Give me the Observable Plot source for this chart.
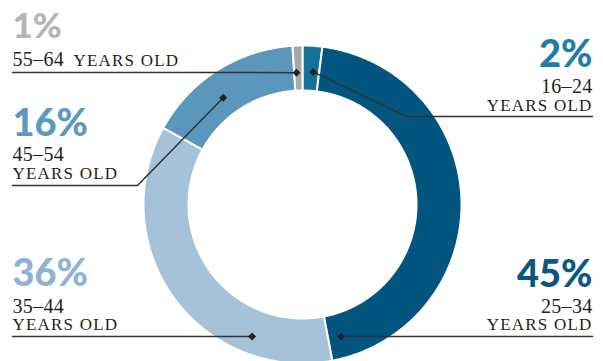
<!DOCTYPE html>
<html><head><meta charset="utf-8">
<script src="https://cdn.jsdelivr.net/npm/d3@7"></script>
<script src="https://cdn.jsdelivr.net/npm/@observablehq/plot@0.6"></script>
<style>
html,body{margin:0;padding:0;background:#fff;}
g[aria-description="years"] text{letter-spacing:1.2px;}
g[aria-description="range"] text{letter-spacing:0.3px;}
</style></head><body><div id="chart"></div>
<script>
// ---- data ----
const ages = ["16–24","25–34","35–44","45–54","55–64"];
const shares = [2,45,36,16,1];
const pctText = ["2%","45%","36%","16%","1%"];
const yearsText = "YEARS OLD";
const sliceColors = ["#13719c","#02557f","#a6c2d9","#5b96bc","#a8a9ac"];
const pctColors = ["#1f7ea8","#0b5782","#8db4d5","#5d98be","#b3b5b8"];

// ---- layout ----
const W = 603, H = 361, CX = 302, CY = 204, R_OUT = 159, R_IN = 114;
const labelX  = [592, 592, 12, 12, 12];
const anchors = ["end", "end", "start", "start", "start"];
const pctY    = [66, 286, 285, 135, 37];
const rangeY  = [92, 312, 312, 160, 65];
const yearsX  = [592, 592, 12, 12, 73];
const yearsY  = [110, 329, 329, 178, 65];
const lineY   = [116, 336, 336, 185, 72];
const elbowX  = [406, null, null, 137, null];
const markerAngle = [4.6, 163.7, 200.9, 323.4, 357.4];
const markerR     = [133, 137.6, 141.3, 133, 132];

function polar(deg, r) {
  const t = deg * Math.PI / 180;
  return {x: CX + r * Math.sin(t), y: CY - r * Math.cos(t)};
}

const total = d3.sum(shares);
let acc = 0;
const slicePts = [];
ages.forEach((age, i) => {
  const a0 = acc / total * 360, a1 = (acc + shares[i]) / total * 360;
  acc += shares[i];
  const n = Math.max(4, Math.ceil((a1 - a0) / 0.5));
  for (let k = 0; k <= n; k++) slicePts.push({age, ...polar(a0 + (a1 - a0) * k / n, R_OUT)});
  for (let k = n; k >= 0; k--) slicePts.push({age, ...polar(a0 + (a1 - a0) * k / n, R_IN)});
});

const markers = ages.map((age, i) => ({age, ...polar(markerAngle[i], markerR[i])}));
const leaderPts = [];
ages.forEach((age, i) => {
  leaderPts.push({age, x: labelX[i], y: lineY[i]});
  if (elbowX[i] != null) leaderPts.push({age, x: elbowX[i], y: lineY[i]});
  leaderPts.push({age, x: markers[i].x, y: markers[i].y});
});

const labels = ages.map((age, i) => ({
  age, pct: pctText[i], years: yearsText, x: labelX[i], anchor: anchors[i],
  pctY: pctY[i], rangeY: rangeY[i], yearsX: yearsX[i], yearsY: yearsY[i],
  yearsAnchor: i === 4 ? "start" : anchors[i]
}));

const serif = "'Liberation Serif', 'DejaVu Serif', serif";
const textMarks = [];
labels.forEach((d, i) => {
  textMarks.push(Plot.text([d], {x: "x", y: "pctY", text: "pct", textAnchor: d.anchor, lineAnchor: "bottom",
    fontFamily: "Lato", fontWeight: 900, fontSize: i === 4 ? 35 : 38, fill: pctColors[i]}));
  textMarks.push(Plot.text([d], {x: "x", y: "rangeY", text: "age", textAnchor: d.anchor, lineAnchor: "bottom",
    fontFamily: serif, fontSize: 20, fill: "#231f20", ariaDescription: "range"}));
  textMarks.push(Plot.text([d], {x: "yearsX", y: "yearsY", text: "years", textAnchor: d.yearsAnchor, lineAnchor: "bottom",
    fontFamily: serif, fontSize: 17, fill: "#231f20", ariaDescription: "years"}));
});

const plot = Plot.plot({
  width: W, height: H, margin: 0,
  x: {domain: [0, W], range: [0, W], axis: null},
  y: {domain: [0, H], range: [0, H], axis: null},
  color: {domain: ages, range: sliceColors},
  style: {background: "#fff", overflow: "visible"},
  marks: [
    Plot.line(slicePts, {x: "x", y: "y", z: "age", fill: "age", stroke: "white", strokeWidth: 2, curve: "linear-closed"}),
    Plot.line(leaderPts, {x: "x", y: "y", z: "age", stroke: "#333", strokeWidth: 1.5}),
    Plot.dot(markers, {x: "x", y: "y", symbol: "diamond2", r: 3.6, fill: "#222", stroke: "none"}),
    ...textMarks
  ]
});
document.getElementById("chart").appendChild(plot);
</script></body></html>
